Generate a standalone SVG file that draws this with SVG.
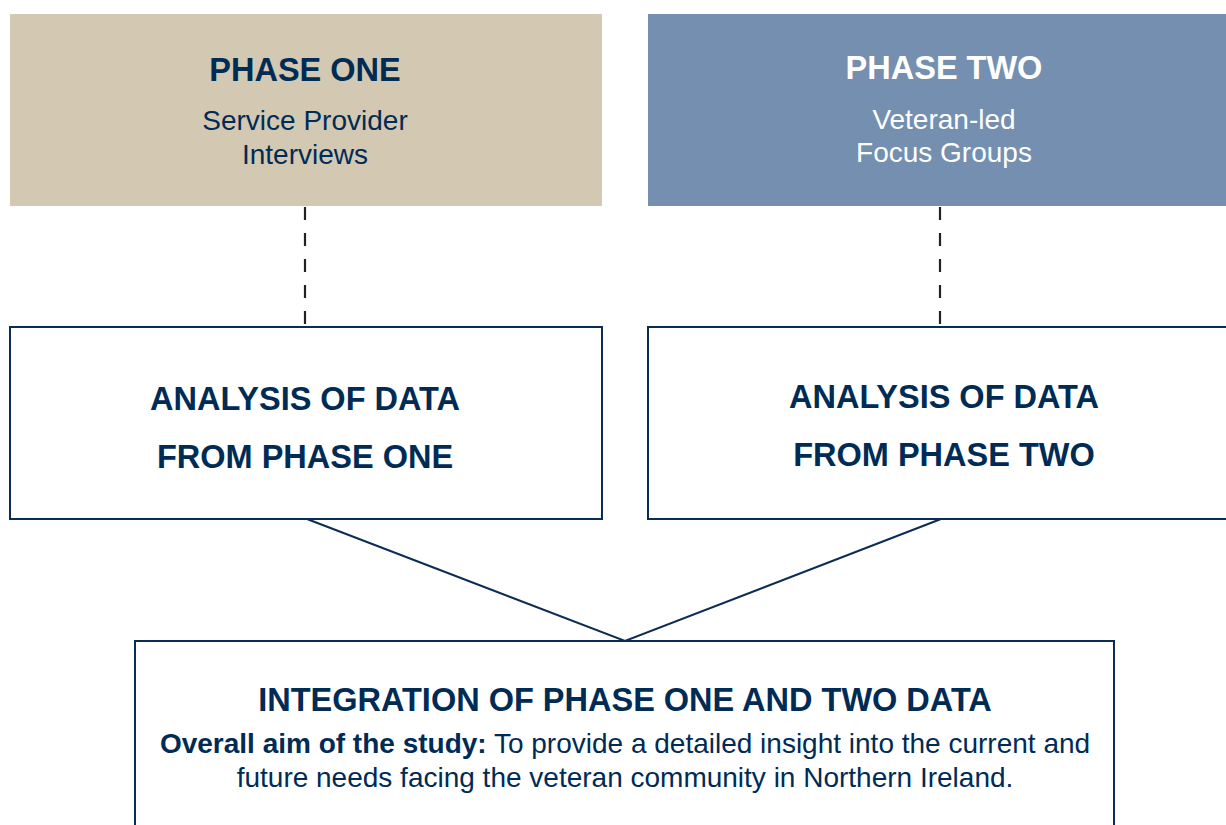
<svg xmlns="http://www.w3.org/2000/svg" width="1226" height="825" viewBox="0 0 1226 825">
<style>
.t{font-family:"Liberation Sans",Arial,sans-serif;fill:#002B55;text-anchor:middle}
.b{font-weight:bold}
.w{fill:#ffffff}
.box{fill:#ffffff;stroke:#0B2D55;stroke-width:2}
.dash{stroke:#222;stroke-width:2.2;stroke-dasharray:13,13;fill:none}
.ln{stroke:#0B2D55;stroke-width:2;fill:none}
</style>
<rect width="1226" height="825" fill="#ffffff"/>
<g id="connectors">
<line class="dash" x1="305" y1="207" x2="305" y2="327"/>
<line class="dash" x1="940" y1="207" x2="940" y2="327"/>
<polyline class="ln" points="307,519 625,641 941,519"/>
</g>
<g id="phase-one">
<rect x="10" y="14" width="592" height="192" fill="#D3C8B1"/>
<text class="t b" x="305" y="81" font-size="32.5">PHASE ONE</text>
<text class="t" x="305" y="130" font-size="28">Service Provider</text>
<text class="t" x="305" y="164" font-size="28">Interviews</text>
</g>
<g id="phase-two">
<rect x="648" y="14" width="590" height="192" fill="#748FAF"/>
<text class="t b w" x="944" y="79" font-size="32.5">PHASE TWO</text>
<text class="t w" x="944" y="129" font-size="28">Veteran-led</text>
<text class="t w" x="944" y="162" font-size="28">Focus Groups</text>
</g>
<g id="analysis-one">
<rect class="box" x="10" y="327" width="592" height="192"/>
<text class="t b" x="305" y="410" font-size="32.5">ANALYSIS OF DATA</text>
<text class="t b" x="305" y="468" font-size="32.5">FROM PHASE ONE</text>
</g>
<g id="analysis-two">
<rect class="box" x="648" y="327" width="600" height="192"/>
<text class="t b" x="944" y="408" font-size="32.5">ANALYSIS OF DATA</text>
<text class="t b" x="944" y="466" font-size="32.5">FROM PHASE TWO</text>
</g>
<g id="integration">
<rect class="box" x="135" y="641" width="979" height="200"/>
<text class="t b" x="625" y="711" font-size="32.5">INTEGRATION OF PHASE ONE AND TWO DATA</text>
<text class="t" x="625" y="753" font-size="28"><tspan font-weight="bold">Overall aim of the study:</tspan> To provide a detailed insight into the current and</text>
<text class="t" x="625" y="787" font-size="28">future needs facing the veteran community in Northern Ireland.</text>
</g>
</svg>
